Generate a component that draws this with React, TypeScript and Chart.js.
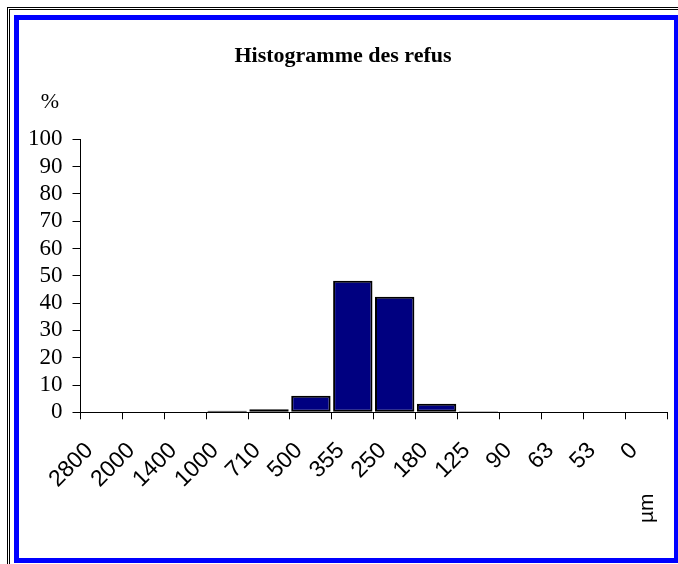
import React, { useEffect, useRef } from "react";
import { Chart, registerables } from "chart.js";

Chart.register(...registerables);

const TITLE = "Histogramme des refus";
const Y_UNIT = "%";
const X_UNIT = "µm";
const sieves = ["2800", "2000", "1400", "1000", "710", "500", "355", "250", "180", "125", "90", "63", "53", "0"];
const refus = [0, 0, 0, 0.6, 1.1, 6.1, 48.2, 42.3, 3.1, 0.4, 0, 0, 0, 0];
const yMin = 0;
const yMax = 100;
const yStep = 10;

const SERIF = "'Liberation Serif', 'Times New Roman', serif";
const SANS = "'Liberation Sans', Arial, sans-serif";

const unitLabels = {
  id: "unitLabels",
  afterDraw(chart: any) {
    const ctx = chart.ctx;
    const area = chart.chartArea;
    const xs = chart.scales.x;
    ctx.save();
    ctx.fillStyle = "#000";
    ctx.font = `22px ${SERIF}`;
    ctx.textAlign = "center";
    ctx.textBaseline = "middle";
    ctx.fillText(Y_UNIT, area.left - 30.5, area.top - 37);
    const lastX = xs.getPixelForValue(sieves.length - 1);
    ctx.translate(lastX + 1, area.bottom + 96);
    ctx.rotate(-Math.PI / 2);
    ctx.font = `21px ${SANS}`;
    ctx.fillText(X_UNIT, 0, 0);
    ctx.restore();
  },
};

export default function App() {
  const ref = useRef<HTMLCanvasElement>(null);
  useEffect(() => {
    if (!ref.current) return;
    const chart = new Chart(ref.current, {
      type: "bar",
      data: {
        labels: sieves,
        datasets: [
          {
            data: refus,
            backgroundColor: "#000080",
            borderColor: "#000",
            borderWidth: 2,
            borderSkipped: false,
            barPercentage: 0.94,
            categoryPercentage: 1,
          },
        ],
      },
      options: {
        responsive: false,
        animation: false,
        layout: { padding: { left: 0, right: 7, top: 0, bottom: 0 } },
        plugins: {
          legend: { display: false },
          tooltip: { enabled: false },
          title: {
            display: true,
            text: TITLE,
            color: "#000",
            font: { family: SERIF, size: 22, weight: "bold" },
            padding: { top: 23, bottom: 70 },
          },
        },
        scales: {
          x: {
            afterFit: (s: any) => {
              s.height = 145.7;
              s.paddingLeft = 0;
              s.paddingRight = 0;
            },
            grid: {
              display: true,
              offset: true,
              drawOnChartArea: false,
              drawTicks: true,
              tickLength: 7,
              color: "#000",
            },
            border: { display: true, color: "#000", width: 1 },
            ticks: {
              color: "#000",
              font: { family: SANS, size: 23 },
              minRotation: 45,
              maxRotation: 45,
              autoSkip: false,
              padding: 18,
              labelOffset: -12,
            },
          },
          y: {
            min: yMin,
            max: yMax,
            afterFit: (s: any) => {
              s.width = 61.5;
            },
            grid: {
              display: true,
              drawOnChartArea: false,
              drawTicks: true,
              tickLength: 8,
              color: "#000",
            },
            border: { display: true, color: "#000", width: 1 },
            ticks: {
              stepSize: yStep,
              autoSkip: false,
              color: "#000",
              font: { family: SERIF, size: 23 },
              padding: 10,
            },
          },
        },
      },
      plugins: [unitLabels],
    });
    return () => chart.destroy();
  }, []);

  return (
    <div
      style={{
        position: "fixed",
        left: 0,
        top: 0,
        width: 678,
        height: 564,
        overflow: "hidden",
        background: "#fff",
      }}
    >
      <div
        style={{
          position: "absolute",
          left: 7,
          top: 7,
          width: 720,
          height: 620,
          border: "3px double #000",
        }}
      />
      <div
        style={{
          position: "absolute",
          left: 14,
          top: 15,
          width: 664,
          height: 548,
          boxSizing: "border-box",
          borderStyle: "solid",
          borderColor: "#0000ff",
          borderWidth: "5px 4px 5px 5px",
          background: "#fff",
        }}
      >
        <canvas
          ref={ref}
          width={655}
          height={538}
          style={{ display: "block", width: 655, height: 538 }}
        />
      </div>
    </div>
  );
}
